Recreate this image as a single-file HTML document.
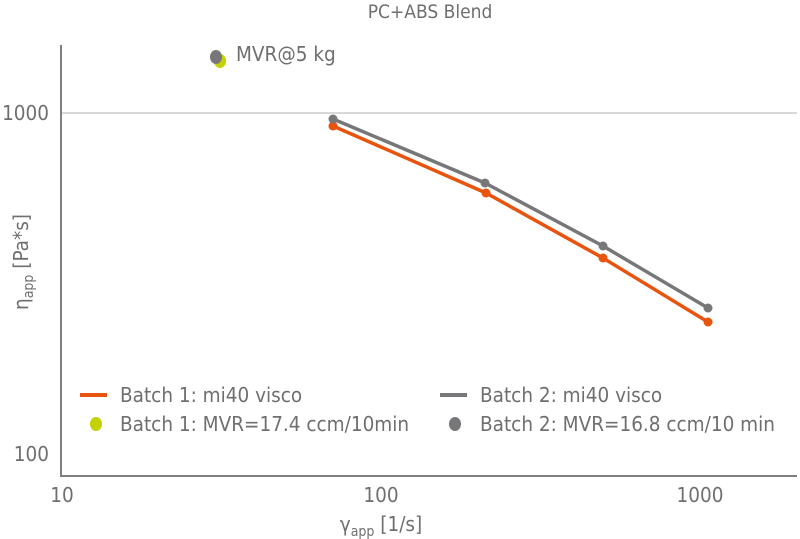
<!DOCTYPE html>
<html><head><meta charset="utf-8"><style>
html,body{margin:0;padding:0;background:#fff;}
svg{display:block;font-family:"DejaVu Sans Condensed","Liberation Sans Narrow","Liberation Sans",sans-serif;}
</style></head><body>
<svg width="800" height="539" viewBox="0 0 800 539" xmlns="http://www.w3.org/2000/svg">
<text x="430" y="18" font-size="19" fill="#6f6f6f" text-anchor="middle">PC+ABS Blend</text>
<line x1="61" y1="113" x2="797" y2="113" stroke="#c0c0c0" stroke-width="1.2"/>
<line x1="61" y1="45" x2="61" y2="476" stroke="#808080" stroke-width="2"/>
<line x1="60" y1="476" x2="797" y2="476" stroke="#808080" stroke-width="2"/>
<g font-size="20.5" fill="#6f6f6f">
<text x="49" y="120" text-anchor="end">1000</text>
<text x="49" y="461" text-anchor="end">100</text>
<text x="62" y="502" text-anchor="middle">10</text>
<text x="381" y="502" text-anchor="middle">100</text>
<text x="700" y="502" text-anchor="middle">1000</text>
<text x="381" y="531" text-anchor="middle">γ<tspan font-size="14" dy="5">app</tspan><tspan dy="-5"> [1/s]</tspan></text>
<text transform="translate(28,262) rotate(-90)" text-anchor="middle">η<tspan font-size="14" dy="5">app</tspan><tspan dy="-5"> [Pa*s]</tspan></text>
<text x="236" y="61">MVR@5 kg</text>
</g>
<polyline points="333,126 486,193 603,258 708,322" fill="none" stroke="#e8530e" stroke-width="3.5"/>
<polyline points="333,119 485,183 603,246 708,308" fill="none" stroke="#777779" stroke-width="3.5"/>
<g fill="#e8530e"><circle cx="333" cy="126" r="4.5"/><circle cx="486" cy="193" r="4.5"/><circle cx="603" cy="258" r="4.5"/><circle cx="708" cy="322" r="4.5"/></g>
<g fill="#777779"><circle cx="333" cy="119" r="4.5"/><circle cx="485" cy="183" r="4.5"/><circle cx="603" cy="246" r="4.5"/><circle cx="708" cy="308" r="4.5"/></g>
<ellipse cx="220" cy="61" rx="6" ry="7" fill="#c3d200"/>
<ellipse cx="216" cy="57" rx="6" ry="7" fill="#777779"/>
<g font-size="20.5" fill="#6f6f6f">
<line x1="80" y1="395" x2="107" y2="395" stroke="#e8530e" stroke-width="4"/>
<text x="120" y="402">Batch 1: mi40 visco</text>
<ellipse cx="96" cy="424" rx="6" ry="7" fill="#c3d200"/>
<text x="120" y="431">Batch 1: MVR=17.4 ccm/10min</text>
<line x1="440" y1="395" x2="467" y2="395" stroke="#777779" stroke-width="4"/>
<text x="480" y="402">Batch 2: mi40 visco</text>
<ellipse cx="455" cy="424" rx="6" ry="7" fill="#777779"/>
<text x="480" y="431">Batch 2: MVR=16.8 ccm/10 min</text>
</g>
</svg>
</body></html>
